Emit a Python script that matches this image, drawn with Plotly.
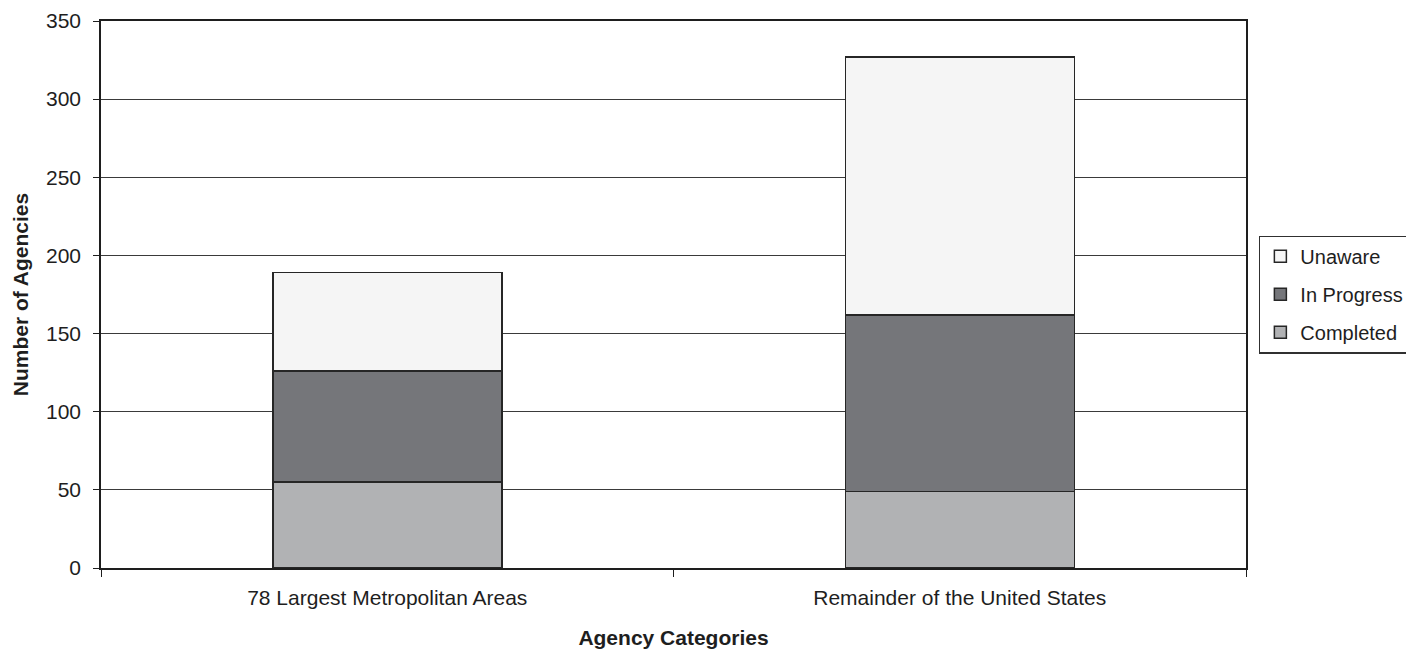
import plotly.graph_objects as go

# Agency survey results, stacked by status
categories = ["78 Largest Metropolitan Areas", "Remainder of the United States"]
completed = [55, 49]
in_progress = [71, 113]
unaware = [63, 165]

y_ticks = [0, 50, 100, 150, 200, 250, 300, 350]

FONT = "Liberation Sans, Arial, Helvetica, sans-serif"
EDGE = dict(color="#262626", width=1.5)

fig = go.Figure()
fig.add_trace(go.Bar(name="Completed", x=categories, y=completed,
                     marker=dict(color="#b1b2b4", line=EDGE),
                     legendgroup="c", legendrank=3))
fig.add_trace(go.Bar(name="In Progress", x=categories, y=in_progress,
                     marker=dict(color="#75767a", line=EDGE),
                     legendgroup="p", legendrank=2))
fig.add_trace(go.Bar(name="Unaware", x=categories, y=unaware,
                     marker=dict(color="#f5f5f5", line=EDGE),
                     legendgroup="u", legendrank=1))

fig.update_layout(
    width=1406, height=654,
    margin=dict(l=101, r=160, t=21, b=86, autoexpand=False),
    barmode="stack", bargap=0.6,
    plot_bgcolor="white", paper_bgcolor="white",
    font=dict(family=FONT, size=21, color="#1e1e1e"),
    showlegend=True,
    legend=dict(
        x=1.0115, xanchor="left", y=0.5, yanchor="middle",
        traceorder="grouped", tracegroupgap=9,
        bordercolor="#303030", borderwidth=1.2, bgcolor="white",
        font=dict(size=20), itemwidth=30,
    ),
    xaxis=dict(
        showline=True, linecolor="#1e1e1e", linewidth=1.5, mirror=True,
        ticks="outside", ticklen=7, tickwidth=1.2, tickcolor="#1e1e1e",
        tickson="boundaries", ticklabelstandoff=10,
        title=dict(text="<b>Agency Categories</b>", standoff=22,
                   font=dict(size=21)),
    ),
    yaxis=dict(
        range=[0, 350], tickvals=y_ticks,
        showline=True, linecolor="#1e1e1e", linewidth=1.5, mirror=True,
        showgrid=True, gridcolor="#3a3a3a", gridwidth=1.2,
        ticks="outside", ticklen=6, tickwidth=1.2, tickcolor="#1e1e1e",
        ticklabelstandoff=8, zeroline=False,
        title=dict(text="<b>Number of Agencies</b>", standoff=12,
                   font=dict(size=21)),
    ),
)

fig.write_html("out.html")
